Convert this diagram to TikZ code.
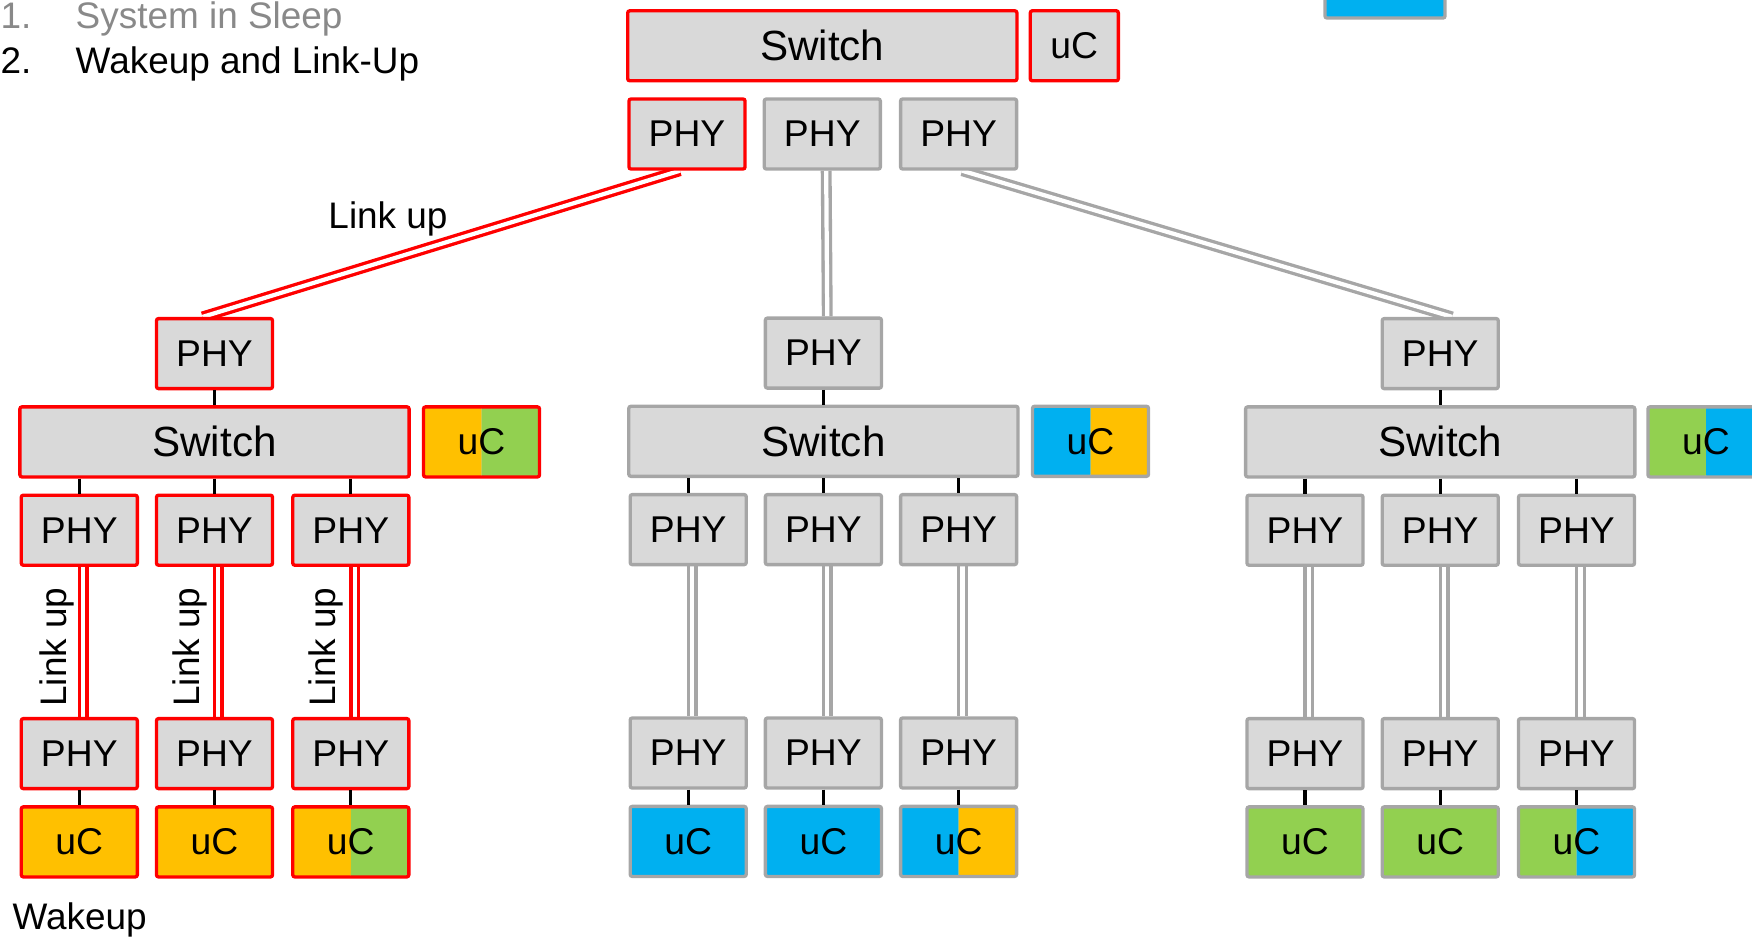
\documentclass[tikz,border=0pt]{standalone}
\usepackage{fontspec}
\setmainfont{Liberation Sans}
\usetikzlibrary{backgrounds}

\definecolor{boxgray}{RGB}{217,217,217}
\definecolor{framegray}{RGB}{166,166,166}
\definecolor{wakered}{RGB}{255,0,0}
\definecolor{sleepgray}{RGB}{137,137,137}
\definecolor{ucorange}{RGB}{255,192,0}
\definecolor{ucgreen}{RGB}{146,208,80}
\definecolor{ucblue}{RGB}{0,176,240}

\tikzset{
  blk/.style={draw, fill=boxgray, line width=0.95pt, rounded corners=0.6pt,
    inner sep=0pt, minimum width=1.16cm, minimum height=0.70cm,
    font=\fontsize{10.6}{12}\selectfont},
  sw/.style={blk, minimum width=3.89cm, font=\fontsize{12}{14}\selectfont},
  awake/.style={draw=wakered},
  asleep/.style={draw=framegray},
  halves/.style 2 args={path picture={
    \fill[#1] (path picture bounding box.south west) rectangle (path picture bounding box.north);
    \fill[#2] (path picture bounding box.south) rectangle (path picture bounding box.north east);}},
  tie/.style={line width=0.95pt},
  redlink/.style={draw=wakered, double=white, line width=0.95pt, double distance=1.2pt},
  graylink/.style={draw=framegray, double=white, line width=0.95pt, double distance=1.2pt},
  lbl/.style={font=\fontsize{10.5}{12}\selectfont}
}

\begin{document}
\begin{tikzpicture}[x=0.01cm, y=-0.01cm]
  \useasboundingbox (0,0) rectangle (1752,936);
  \clip (0,0) rectangle (1752,936);

  % steps
  \node[lbl, text=sleepgray, anchor=base west, inner sep=0pt] (stage1) at (0,28)
    {\makebox[0.75cm][l]{1.}System in Sleep};
  \node[lbl, anchor=base west, inner sep=0pt] (stage2) at (0,73)
    {\makebox[0.75cm][l]{2.}Wakeup and Link-Up};

  % colour key, cut by the page edge
  \node[blk, asleep, fill=ucblue, minimum width=1.2cm] (key) at (1385,-17) {};

  % root switch
  \node[sw, awake] (sw0) at (822.3,45.8) {Switch};
  \node[blk, awake, minimum width=0.88cm] (uc0) at (1074.3,45.8) {uC};
  \node[blk, awake] (p0a) at (687,134) {PHY};
  \node[blk, asleep] (p0b) at (822.3,134) {PHY};
  \node[blk, asleep] (p0c) at (958.6,134) {PHY};

  % first branch (awake)
  \node[blk, awake] (p1) at (214.5,353.6) {PHY};
  \node[sw, awake] (sw1) at (214.5,441.9) {Switch};
  \node[blk, awake, halves={ucorange}{ucgreen}] (uc1) at (481.5,441.9) {uC};
  \draw[tie] (p1) -- (sw1);
  \foreach \i/\x in {a/79.3, b/214.5, c/350.8} {
    \node[blk, awake] (p1\i) at (\x,530.2) {PHY};
    \node[blk, awake] (q1\i) at (\x,753.6) {PHY};
    \draw[tie] (p1\i.north |- sw1.south) -- (p1\i);
  }
  \node[blk, awake, fill=ucorange] (u1a) at (79.3,841.9) {uC};
  \node[blk, awake, fill=ucorange] (u1b) at (214.5,841.9) {uC};
  \node[blk, awake, halves={ucorange}{ucgreen}] (u1c) at (350.8,841.9) {uC};

  % second branch (asleep)
  \node[blk, asleep] (p2) at (823.4,353.1) {PHY};
  \node[sw, asleep] (sw2) at (823.4,441.3) {Switch};
  \node[blk, asleep, halves={ucblue}{ucorange}] (uc2) at (1090.5,441.3) {uC};
  \draw[tie] (p2) -- (sw2);
  \foreach \i/\x in {a/688.2, b/823.4, c/958.6} {
    \node[blk, asleep] (p2\i) at (\x,529.6) {PHY};
    \node[blk, asleep] (q2\i) at (\x,753) {PHY};
    \draw[tie] (p2\i.north |- sw2.south) -- (p2\i);
  }
  \node[blk, asleep, fill=ucblue] (u2a) at (688.2,841.4) {uC};
  \node[blk, asleep, fill=ucblue] (u2b) at (823.4,841.4) {uC};
  \node[blk, asleep, halves={ucblue}{ucorange}] (u2c) at (958.6,841.4) {uC};

  % third branch (asleep)
  \node[blk, asleep] (p3) at (1440.2,353.6) {PHY};
  \node[sw, asleep] (sw3) at (1440.2,441.9) {Switch};
  \node[blk, asleep, halves={ucgreen}{ucblue}] (uc3) at (1706,441.9) {uC};
  \draw[tie] (p3) -- (sw3);
  \foreach \i/\x in {a/1305, b/1440.2, c/1576.5} {
    \node[blk, asleep] (p3\i) at (\x,530.2) {PHY};
    \node[blk, asleep] (q3\i) at (\x,753.6) {PHY};
    \draw[tie] (p3\i.north |- sw3.south) -- (p3\i);
  }
  \node[blk, asleep, fill=ucgreen] (u3a) at (1305,841.9) {uC};
  \node[blk, asleep, fill=ucgreen] (u3b) at (1440.2,841.9) {uC};
  \node[blk, asleep, halves={ucgreen}{ucblue}] (u3c) at (1576.5,841.9) {uC};

  % PHY to uC
  \foreach \g in {1,2,3}
    \foreach \i in {a,b,c}
      \draw[tie] (q\g\i) -- (u\g\i);

  % cable links, kept under the boxes
  \begin{scope}[on background layer]
    \draw[redlink] ([xshift=-2pt]p0a.south) -- ([xshift=-3.4pt]p1.north);
    \draw[graylink] ([xshift=1.1pt]p0b.south) -- ([xshift=1.1pt]p2.north);
    \draw[graylink] ([xshift=1pt]p0c.south) -- ([xshift=3.4pt]p3.north);
    \foreach \i in {a,b,c} {
      \draw[redlink] ([xshift=1.1pt]p1\i.south) -- ([xshift=1.1pt]q1\i.north);
      \draw[graylink] ([xshift=1.1pt]p2\i.south) -- ([xshift=1.1pt]q2\i.north);
      \draw[graylink] ([xshift=1.1pt]p3\i.south) -- ([xshift=1.1pt]q3\i.north);
    }
  \end{scope}

  % labels
  \node[lbl] (lk0) at (388,219) {Link up};
  \node[lbl, rotate=90, anchor=base] (lk1) at (66,647) {Link up};
  \node[lbl, rotate=90, anchor=base] (lk2) at (199,647) {Link up};
  \node[lbl, rotate=90, anchor=base] (lk3) at (335,647) {Link up};
  \node[lbl, anchor=base west, inner sep=0pt] (wake) at (12,929) {Wakeup};
\end{tikzpicture}
\end{document}
